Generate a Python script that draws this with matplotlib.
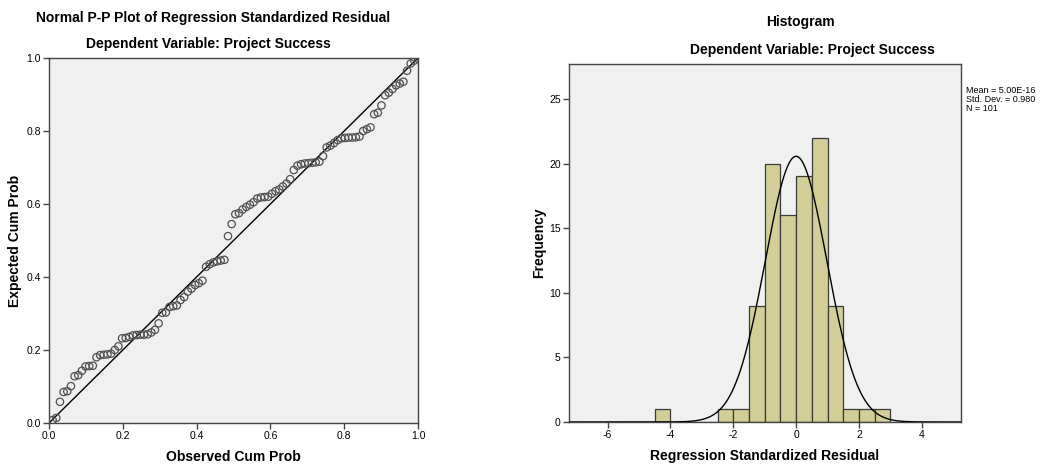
import numpy as np
import matplotlib.pyplot as plt

plt.rcParams['font.family'] = ['Liberation Sans', 'DejaVu Sans']
plt.rcParams['axes.unicode_minus'] = False

# P-P plot: expected cumulative probability for each of the 101 residuals (sorted)
expected_cum_prob = [
    0.008, 0.014, 0.058, 0.085, 0.087, 0.101, 0.128, 0.131, 0.143, 0.155,
    0.156, 0.157, 0.180, 0.186, 0.187, 0.188, 0.190, 0.200, 0.210, 0.232,
    0.233, 0.236, 0.240, 0.241, 0.242, 0.242, 0.243, 0.248, 0.255, 0.273,
    0.302, 0.303, 0.318, 0.320, 0.322, 0.337, 0.345, 0.360, 0.368, 0.378,
    0.383, 0.390, 0.428, 0.435, 0.440, 0.443, 0.445, 0.447, 0.512, 0.545,
    0.572, 0.575, 0.585, 0.592, 0.598, 0.605, 0.615, 0.618, 0.619, 0.620,
    0.628, 0.635, 0.640, 0.648, 0.656, 0.668, 0.693, 0.705, 0.709, 0.711,
    0.712, 0.713, 0.714, 0.716, 0.731, 0.755, 0.760, 0.767, 0.775, 0.780,
    0.781, 0.782, 0.782, 0.783, 0.785, 0.800, 0.805, 0.810, 0.846, 0.850,
    0.870, 0.898, 0.905, 0.915, 0.925, 0.930, 0.935, 0.965, 0.985, 0.993,
    0.998,
]
n_obs = len(expected_cum_prob)
observed_cum_prob = [(i + 1) / n_obs for i in range(n_obs)]

# Histogram of standardized residuals
bin_edges = [-4.5, -4.0, -3.5, -3.0, -2.5, -2.0, -1.5, -1.0, -0.5, 0.0,
             0.5, 1.0, 1.5, 2.0, 2.5, 3.0]
bin_counts = [1, 0, 0, 0, 1, 1, 9, 20, 16, 19, 22, 9, 1, 1, 1]
resid_mean = 5.00e-16
resid_sd = 0.980
resid_n = 101

bg = '#f0f0f0'
spine_col = '#444444'
bar_col = '#d3ce97'

fig = plt.figure(figsize=(10.49, 4.70), dpi=100)

# ---- P-P plot ----
ax1 = fig.add_axes([49 / 1049, 47 / 470, 369 / 1049, 365 / 470])
ax1.set_facecolor(bg)
ax1.plot([0, 1], [0, 1], color='black', lw=1.0, zorder=2)
ax1.scatter(observed_cum_prob, expected_cum_prob, s=28, facecolors='none',
            edgecolors='#505050', linewidths=0.9, zorder=3)
ax1.set_xlim(0, 1)
ax1.set_ylim(0, 1)
ax1.set_xticks(np.arange(0, 1.01, 0.2))
ax1.set_yticks(np.arange(0, 1.01, 0.2))
ax1.set_xticklabels(['0.0', '0.2', '0.4', '0.6', '0.8', '1.0'])
ax1.set_yticklabels(['0.0', '0.2', '0.4', '0.6', '0.8', '1.0'])
ax1.set_xlabel('Observed Cum Prob', fontsize=10, fontweight='bold', labelpad=6)
ax1.set_ylabel('Expected Cum Prob', fontsize=10, fontweight='bold', labelpad=3)
fig.text(213 / 1049, 1 - 18 / 470, 'Normal P-P Plot of Regression Standardized Residual',
         ha='center', va='center', fontsize=10, fontweight='bold')
fig.text(208 / 1049, 1 - 44 / 470, 'Dependent Variable: Project Success',
         ha='center', va='center', fontsize=10, fontweight='bold')

# ---- Histogram ----
ax2 = fig.add_axes([569 / 1049, 48 / 470, 392 / 1049, 358 / 470])
ax2.set_facecolor(bg)
lefts = bin_edges[:-1]
widths = np.diff(bin_edges)
ax2.bar(lefts, bin_counts, width=widths, align='edge', color=bar_col,
        edgecolor='#3a3a3a', linewidth=0.9, zorder=2)
bw = widths[0]
xs = np.linspace(-7.3, 5.3, 400)
pdf = resid_n * bw / (resid_sd * np.sqrt(2 * np.pi)) * np.exp(-0.5 * ((xs - resid_mean) / resid_sd) ** 2)
ax2.plot(xs, pdf, color='black', lw=1.0, zorder=3)
ax2.set_xlim(-7.23, 5.25)
ax2.set_ylim(0, 27.7)
ax2.set_xticks([-6, -4, -2, 0, 2, 4])
ax2.set_yticks([0, 5, 10, 15, 20, 25])
ax2.set_xlabel('Regression Standardized Residual', fontsize=10, fontweight='bold', labelpad=6)
ax2.set_ylabel('Frequency', fontsize=10, fontweight='bold', labelpad=2)
fig.text(800 / 1049, 1 - 22 / 470, 'Histogram',
         ha='center', va='center', fontsize=10, fontweight='bold')
fig.text(812 / 1049, 1 - 50 / 470, 'Dependent Variable: Project Success',
         ha='center', va='center', fontsize=10, fontweight='bold')
fig.text(966 / 1049, 1 - 86 / 470,
         'Mean = 5.00E-16\nStd. Dev. = 0.980\nN = %d' % resid_n,
         ha='left', va='top', fontsize=6.5, linespacing=1.0)

for ax in (ax1, ax2):
    for sp in ax.spines.values():
        sp.set_color(spine_col)
        sp.set_linewidth(1.0)
    ax.tick_params(direction='out', length=4, width=1, color=spine_col,
                   labelsize=7.5, pad=2)

fig.savefig('out.png', dpi=100, facecolor='white')
